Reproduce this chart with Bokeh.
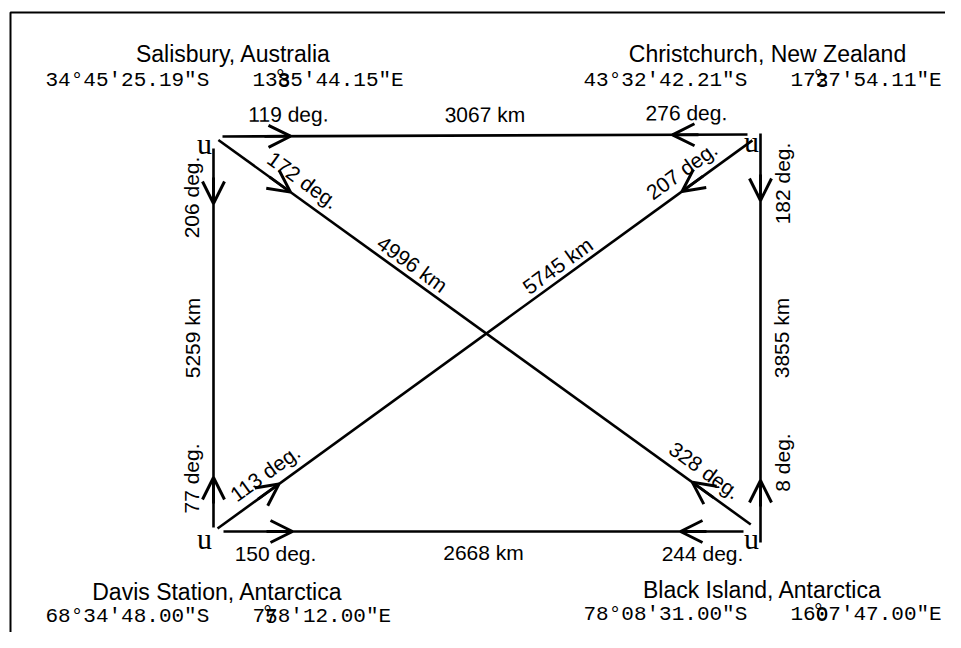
import math
from bokeh.plotting import figure
from bokeh.models import ColumnDataSource, Range1d, Arrow, OpenHead
from bokeh.core.properties import value
from bokeh.embed import file_html
from bokeh.resources import INLINE

# ---------------- data ----------------
stations = ["Salisbury, Australia", "Christchurch, New Zealand",
            "Davis Station, Antarctica", "Black Island, Antarctica"]
latitudes = ["34°45'25.19\"S", "43°32'42.21\"S", "68°34'48.00\"S", "78°08'31.00\"S"]
longitudes = ["138°35'44.15\"E", "172°37'54.11\"E", "77°58'12.00\"E", "160°07'47.00\"E"]

edge_from = [0, 0, 0, 1, 1, 2]
edge_to = [1, 2, 3, 2, 3, 3]
distance_km = [3067, 5259, 4996, 5745, 3855, 2668]
bearing_out = [119, 206, 172, 207, 182, 150]   # bearing leaving edge_from station
bearing_back = [276, 77, 328, 113, 8, 244]     # bearing leaving edge_to station

# ---------------- layout (picture pixels) ----------------
W, H = 945, 632
node_x = [213, 760, 213, 760]
node_y = [136, 134, 531, 531]
trim_start = [9, 12, 6, 10, -1, 10]
trim_end = [13, 4, 12, 5, -11, 17]
edge_side = [1, -1, 1, -1, 1, -1]
km_frac = [0.5, 0.5, 0.35, 0.35, 0.5, 0.5]
tip_out = [68, 55, 89, 87, 67, 69]
tip_back = [75, 50, 72, 76, 62, 63]
lab_out = [66, 49, 92, 75, 50, 52]
lab_back = [61, 49, 69, 71, 80, 41]

title_x = [233, 767, 217, 762]
title_y = [53, 53, 591, 589]
coord_x = [45, 583, 45, 583]
coord_y = [80, 80, 616, 614]
lon_dx = 207
MONO_FS = 21
CW = 0.6 * MONO_FS

p = figure(width=W, height=H, x_range=Range1d(0, W), y_range=Range1d(H, 0),
           output_backend="svg", toolbar_location=None,
           x_axis_location=None, y_axis_location=None, min_border=0)
p.grid.visible = False
p.outline_line_color = None
p.background_fill_color = "white"

# frame of the scanned page
p.line([10, 10, 970], [660, 12, 12], line_color="black", line_width=2)

seg = dict(x0=[], y0=[], x1=[], y1=[])
arr = dict(xs=[], ys=[], xe=[], ye=[])
lab = dict(x=[], y=[], text=[], angle=[])

for k in range(len(edge_from)):
    a, b = edge_from[k], edge_to[k]
    dx, dy = node_x[b] - node_x[a], node_y[b] - node_y[a]
    L = math.hypot(dx, dy)
    ux, uy = dx / L, dy / L
    nx, ny = uy * edge_side[k], -ux * edge_side[k]
    diag = abs(ux) > 0.2 and abs(uy) > 0.2
    x0 = node_x[a] + trim_start[k] * ux
    y0 = node_y[a] + trim_start[k] * uy
    x1 = node_x[b] - trim_end[k] * ux
    y1 = node_y[b] - trim_end[k] * uy
    seg["x0"].append(x0); seg["y0"].append(y0); seg["x1"].append(x1); seg["y1"].append(y1)
    ang = -math.atan2(dy, dx)
    if ang <= -math.pi / 2 + 1e-6:
        ang += math.pi
    if ang > math.pi / 2 + 1e-6:
        ang -= math.pi
    off = 17 if diag else 22
    koff = 13 if diag else 21
    # arrow leaving the start station
    tx, ty = x0 + tip_out[k] * ux, y0 + tip_out[k] * uy
    arr["xs"].append(tx - 26 * ux); arr["ys"].append(ty - 26 * uy)
    arr["xe"].append(tx); arr["ye"].append(ty)
    # arrow leaving the end station
    tx, ty = x1 - tip_back[k] * ux, y1 - tip_back[k] * uy
    arr["xs"].append(tx + 26 * ux); arr["ys"].append(ty + 26 * uy)
    arr["xe"].append(tx); arr["ye"].append(ty)
    # bearing labels
    for (bx, by, bv) in ((x0 + lab_out[k] * ux, y0 + lab_out[k] * uy, bearing_out[k]),
                         (x1 - lab_back[k] * ux, y1 - lab_back[k] * uy, bearing_back[k])):
        lab["x"].append(bx + off * nx); lab["y"].append(by + off * ny)
        lab["text"].append(f"{bv} deg."); lab["angle"].append(ang)
    # distance label
    f = km_frac[k]
    mx, my = x0 + f * (x1 - x0), y0 + f * (y1 - y0)
    lab["x"].append(mx + koff * nx); lab["y"].append(my + koff * ny)
    lab["text"].append(f"{distance_km[k]} km"); lab["angle"].append(ang)

p.segment("x0", "y0", "x1", "y1", source=ColumnDataSource(seg),
          line_color="black", line_width=2.6)
p.add_layout(Arrow(end=OpenHead(size=22, line_width=3, line_color="black"),
                   x_start="xs", y_start="ys", x_end="xe", y_end="ye",
                   source=ColumnDataSource(arr), line_width=2.8, line_color="black"))
p.text("x", "y", text="text", angle="angle", source=ColumnDataSource(lab),
       text_font=value("Liberation Sans"), text_font_size="21px",
       text_align="center", text_baseline="middle", text_color="black")

# station markers
p.text([x - 9 for x in node_x], [y + 7 for y in node_y], text=["u"] * 4,
       text_font=value("Liberation Serif"), text_font_size="30px",
       text_align="center", text_baseline="middle", text_color="black")

# station names
p.text(title_x, title_y, text=stations, text_font=value("Liberation Sans"),
       text_font_size="23px", text_align="center", text_baseline="middle",
       text_color="black")

# latitude
p.text(coord_x, coord_y, text=latitudes, text_font=value("Liberation Mono"),
       text_font_size=f"{MONO_FS}px", text_align="left", text_baseline="middle",
       text_color="black")

# longitude, with the overprinted degree cell of the original print
lon_main, ov_x, ov_y, ov_t, dg_x = [], [], [], [], []
for i, lon in enumerate(longitudes):
    deg, rest = lon.split("°")
    lon_main.append(deg + rest[1:])
    cx = coord_x[i] + lon_dx + (len(deg) - 1) * CW
    ov_x.append(cx); ov_y.append(coord_y[i]); ov_t.append(rest[0])
    dg_x.append(cx - 0.3 * CW)
lx = [x + lon_dx for x in coord_x]
p.text(lx, coord_y, text=lon_main, text_font=value("Liberation Mono"),
       text_font_size=f"{MONO_FS}px", text_align="left", text_baseline="middle",
       text_color="black")
p.text(ov_x, ov_y, text=ov_t, text_font=value("Liberation Mono"),
       text_font_size=f"{MONO_FS}px", text_align="left", text_baseline="middle",
       text_color="black")
p.text(dg_x, [y - 3 for y in ov_y], text=["°"] * 4, text_font=value("Liberation Mono"),
       text_font_size=f"{MONO_FS}px", text_align="left", text_baseline="middle",
       text_color="black")

open("out.html", "w").write(file_html(p, INLINE))
